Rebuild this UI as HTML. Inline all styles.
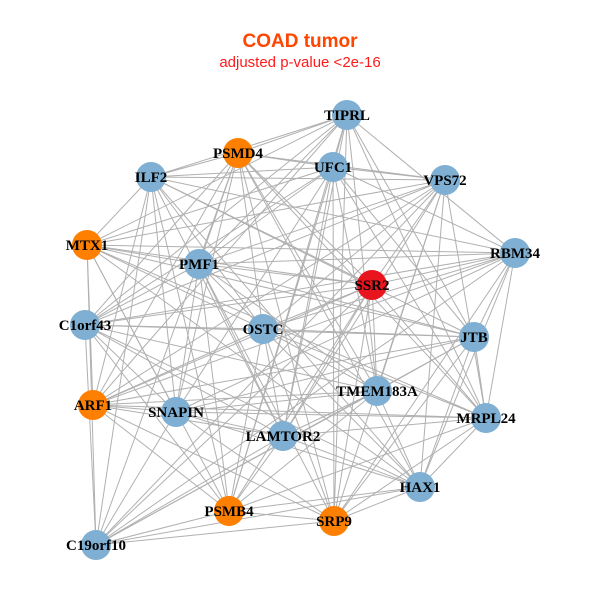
<!DOCTYPE html>
<html><head><style>
body{margin:0;background:#fff;}
svg{display:block;}
</style></head><body>
<svg id="s" width="600" height="600" xmlns="http://www.w3.org/2000/svg">
<rect width="600" height="600" fill="#fff"/>
<text x="300" y="47" text-anchor="middle" font-family="Liberation Sans, sans-serif" font-weight="bold" font-size="19" fill="#ff4500">COAD tumor</text>
<text x="300" y="67" text-anchor="middle" font-family="Liberation Sans, sans-serif" font-size="15" fill="#ff1a1a">adjusted p-value &lt;2e-16</text>
<g id="e" stroke="#b0b0b0" stroke-width="1"></g>
<g id="n"></g>
</svg>
<script>
var N=[["TIPRL",347,115,"b"],["PSMD4",238,153,"o"],["ILF2",151,177,"b"],["UFC1",333,167,"b"],["VPS72",445,180,"b"],["MTX1",87,245,"o"],["PMF1",199,264,"b"],["SSR2",372,285,"r"],["RBM34",515,253,"b"],["C1orf43",85,325,"b"],["OSTC",263,329,"b"],["JTB",474,337,"b"],["TMEM183A",377,391,"b"],["ARF1",93,405,"o"],["SNAPIN",176,412,"b"],["LAMTOR2",283,436,"b"],["MRPL24",486,418,"b"],["HAX1",420,487,"b"],["PSMB4",229,511,"o"],["SRP9",334,521,"o"],["C19orf10",96,545,"b"]];
var C={b:"#7fafd2",o:"#ff8000",r:"#e8141e"};
var ns="http://www.w3.org/2000/svg",e=document.getElementById("e"),g=document.getElementById("n");
for(var i=0;i<N.length;i++)for(var j=i+1;j<N.length;j++){
 if((i*7+j*13)%10<3)continue;
 var l=document.createElementNS(ns,"line");
 l.setAttribute("x1",N[i][1]);l.setAttribute("y1",N[i][2]);l.setAttribute("x2",N[j][1]);l.setAttribute("y2",N[j][2]);e.appendChild(l);}
N.forEach(function(d){
 var c=document.createElementNS(ns,"circle");c.setAttribute("cx",d[1]);c.setAttribute("cy",d[2]);c.setAttribute("r",15);c.setAttribute("fill",C[d[3]]);g.appendChild(c);});
N.forEach(function(d){
 var t=document.createElementNS(ns,"text");t.setAttribute("x",d[1]);t.setAttribute("y",d[2]+5);t.setAttribute("text-anchor","middle");
 t.setAttribute("font-family","Liberation Serif, serif");t.setAttribute("font-weight","bold");t.setAttribute("font-size","15");t.textContent=d[0];g.appendChild(t);});
</script>
</body></html>
